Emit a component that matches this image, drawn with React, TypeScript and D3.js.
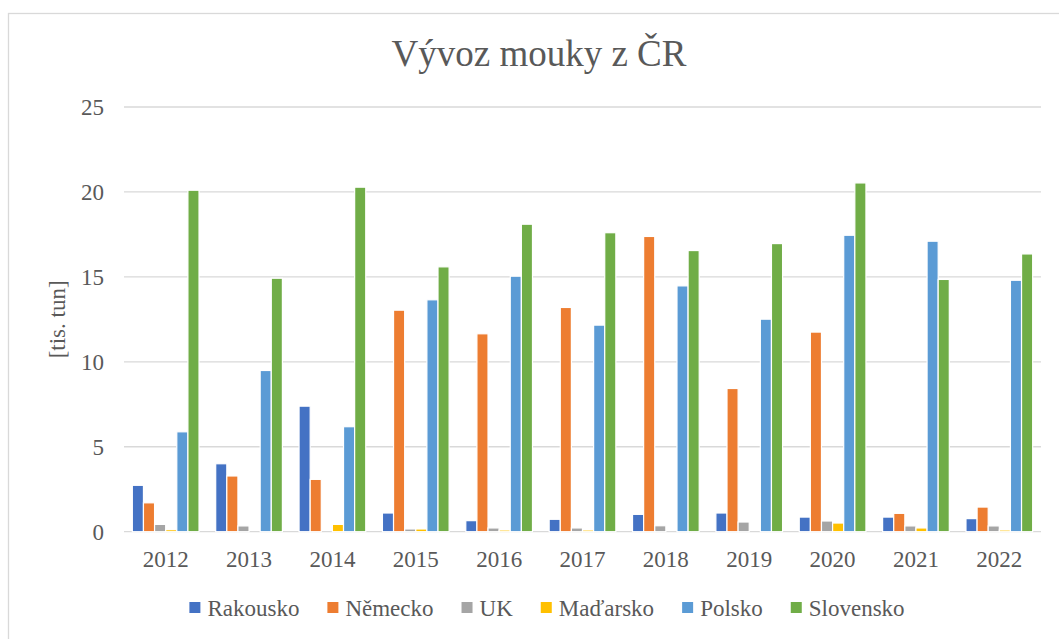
import React, { useEffect, useRef } from 'react';
import * as d3 from 'd3';

const years = ['2012', '2013', '2014', '2015', '2016', '2017', '2018', '2019', '2020', '2021', '2022'];
const seriesNames = ['Rakousko', 'Německo', 'UK', 'Maďarsko', 'Polsko', 'Slovensko'];
const seriesColors = ['#4472C4', '#ED7D31', '#A5A5A5', '#FFC000', '#5B9BD5', '#70AD47'];

const rakousko = [2.73, 4.0, 7.39, 1.1, 0.65, 0.73, 1.02, 1.1, 0.86, 0.86, 0.77];
const nemecko = [1.7, 3.28, 3.08, 13.04, 11.65, 13.2, 17.38, 8.43, 11.75, 1.08, 1.45];
const uk = [0.43, 0.34, 0, 0.16, 0.22, 0.22, 0.35, 0.57, 0.63, 0.34, 0.34];
const madarsko = [0.12, 0, 0.43, 0.16, 0.1, 0.1, 0, 0, 0.51, 0.22, 0.1];
const polsko = [5.88, 9.49, 6.18, 13.65, 15.04, 12.16, 14.47, 12.51, 17.45, 17.1, 14.8];
const slovensko = [20.1, 14.92, 20.28, 15.59, 18.1, 17.6, 16.55, 16.96, 20.53, 14.85, 16.35];

const yTicks = [0, 5, 10, 15, 20, 25];

const seriesValues = [rakousko, nemecko, uk, madarsko, polsko, slovensko];

const FONT = '"Liberation Serif", "Times New Roman", serif';
const TEXT = '#595959';
const GRID = '#D9D9D9';

const App = () => {
  const svgRef = useRef<SVGSVGElement>(null);

  useEffect(() => {
    const svg = d3.select(svgRef.current);
    svg.selectAll('*').remove();

    const width = 1059;
    const height = 639;
    const plot = { left: 124, right: 1041, top: 107, bottom: 531.7 };

    // chart area border
    svg.append('rect')
      .attr('x', 8.5).attr('y', 13.5)
      .attr('width', 1100).attr('height', 700)
      .attr('fill', '#fff')
      .attr('stroke', GRID)
      .attr('stroke-width', 1.3);

    const x0 = d3.scaleBand<string>()
      .domain(years)
      .range([plot.left, plot.right])
      .paddingInner(0.2)
      .paddingOuter(0.1);

    const x1 = d3.scaleBand<string>()
      .domain(seriesNames)
      .range([0, x0.bandwidth()]);

    const y = d3.scaleLinear().domain([0, 25]).range([plot.bottom, plot.top]);

    // gridlines
    svg.append('g')
      .selectAll('line')
      .data(yTicks)
      .join('line')
      .attr('x1', plot.left)
      .attr('x2', plot.right)
      .attr('y1', d => y(d))
      .attr('y2', d => y(d))
      .attr('stroke', GRID)
      .attr('stroke-width', 1.3);

    // y tick labels
    svg.append('g')
      .selectAll('text')
      .data(yTicks)
      .join('text')
      .attr('x', 104)
      .attr('y', d => y(d) + 8)
      .attr('text-anchor', 'end')
      .attr('fill', TEXT)
      .style('font-family', FONT)
      .style('font-size', '23px')
      .text(d => d);

    // bars
    const rows = years.map((yr, i) => ({
      year: yr,
      vals: seriesNames.map((name, s) => ({ name, color: seriesColors[s], value: seriesValues[s][i] })),
    }));

    svg.append('g')
      .selectAll('g')
      .data(rows)
      .join('g')
      .attr('transform', d => `translate(${x0(d.year)},0)`)
      .selectAll('rect')
      .data(d => d.vals.filter(v => v.value > 0))
      .join('rect')
      .attr('x', d => x1(d.name)!)
      .attr('y', d => y(d.value))
      .attr('width', x1.bandwidth())
      .attr('height', d => y(0) - y(d.value))
      .attr('fill', d => d.color)
      .attr('stroke', '#fff')
      .attr('stroke-width', 1.2);

    // x labels
    svg.append('g')
      .selectAll('text')
      .data(years)
      .join('text')
      .attr('x', d => x0(d)! + x0.bandwidth() / 2)
      .attr('y', 567)
      .attr('text-anchor', 'middle')
      .attr('fill', TEXT)
      .style('font-family', FONT)
      .style('font-size', '23px')
      .text(d => d);

    // title
    svg.append('text')
      .attr('x', 539)
      .attr('y', 66)
      .attr('text-anchor', 'middle')
      .attr('fill', TEXT)
      .style('font-family', FONT)
      .style('font-size', '37px')
      .text('Vývoz mouky z ČR');

    // y axis title
    svg.append('text')
      .attr('transform', `translate(65,${(plot.top + plot.bottom) / 2}) rotate(-90)`)
      .attr('text-anchor', 'middle')
      .attr('fill', TEXT)
      .style('font-family', FONT)
      .style('font-size', '23px')
      .text('[tis. tun]');

    // legend
    const legend = svg.append('g');
    const items = legend.selectAll('g')
      .data(seriesNames)
      .join('g');
    items.append('rect')
      .attr('width', 11).attr('height', 11)
      .attr('y', 602)
      .attr('fill', (d, i) => seriesColors[i]);
    items.append('text')
      .attr('x', 18)
      .attr('y', 616)
      .attr('fill', TEXT)
      .style('font-family', FONT)
      .style('font-size', '23px')
      .text(d => d);

    const widths: number[] = [];
    items.select('text').each(function () {
      widths.push((this as SVGTextElement).getComputedTextLength());
    });
    const gap = 28;
    const total = d3.sum(widths, w => w + 18) + gap * (widths.length - 1);
    let cx = 547 - total / 2;
    items.attr('transform', (d, i) => {
      const t = `translate(${cx},0)`;
      cx += widths[i] + 18 + gap;
      return t;
    });

    svg.attr('width', width).attr('height', height);
  }, []);

  return (
    <svg
      ref={svgRef}
      width={1059}
      height={639}
      style={{ position: 'absolute', left: 0, top: 0, background: '#fff' }}
    />
  );
};

export default App;
